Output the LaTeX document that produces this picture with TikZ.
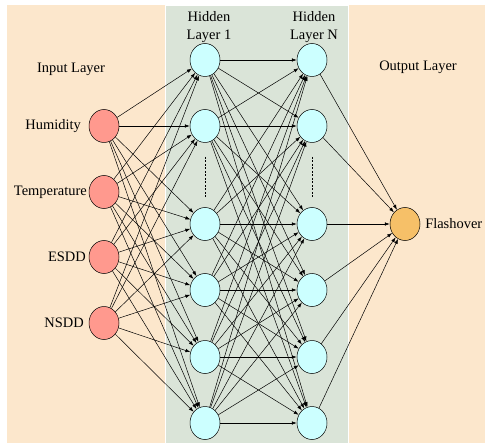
\documentclass[tikz,border=0pt]{standalone}
\usepackage{fontspec}
\setmainfont{Liberation Serif}
\usetikzlibrary{arrows.meta,shapes.geometric}
\definecolor{peach}{RGB}{252,231,204}
\definecolor{sage}{RGB}{218,228,216}
\definecolor{salmon}{RGB}{255,153,142}
\definecolor{aqua}{RGB}{204,255,255}
\definecolor{amber}{RGB}{246,192,104}

\begin{document}
\begin{tikzpicture}[x=1bp,y=-1bp,->,>={Latex[length=5bp,width=3.5bp]},line width=0.5bp]
          \tikzstyle{every node}=[font=\fontsize{14.5}{18.5}\selectfont]
          \tikzstyle{neuron}=[ellipse,draw=black,minimum width=30bp,minimum height=33bp,inner sep=0pt]
          \tikzstyle{innode}=[neuron,fill=salmon]
          \tikzstyle{hidnode}=[neuron,fill=aqua]
          \tikzstyle{outnode}=[neuron,fill=amber]
          \tikzstyle{caption}=[inner sep=0pt,align=center]

          \useasboundingbox (0,0) rectangle (485,443);
          \fill[-,peach] (7,5) rectangle (485,443);
          \filldraw[-,fill=sage,draw=white] (165,5) rectangle (348,443);

          \node[innode] (I1) at (104,126) {};
          \node[innode] (I2) at (104,192) {};
          \node[innode] (I3) at (104,257) {};
          \node[innode] (I4) at (104,323) {};

          \node[hidnode] (A1) at (205,60)  {};
          \node[hidnode] (A2) at (205,126) {};
          \node[hidnode] (A3) at (205,224) {};
          \node[hidnode] (A4) at (205,290) {};
          \node[hidnode] (A5) at (205,357) {};
          \node[hidnode] (A6) at (205,423) {};

          \node[hidnode] (B1) at (312,60)  {};
          \node[hidnode] (B2) at (312,126) {};
          \node[hidnode] (B3) at (312,224) {};
          \node[hidnode] (B4) at (312,290) {};
          \node[hidnode] (B5) at (312,357) {};
          \node[hidnode] (B6) at (312,423) {};

          \node[outnode] (O) at (405,224) {};

          \node[caption] (inlbl)  at (71,69)  {Input Layer};
          \node[caption] (h1lbl)  at (209,27) {Hidden\\Layer 1};
          \node[caption] (hnlbl)  at (314,27) {Hidden\\Layer N};
          \node[caption] (outlbl) at (418,67) {Output Layer};

          \node[caption,anchor=east] (humid) at (81,126) {Humidity};
          \node[caption,anchor=east] (temp)  at (87,192) {Temperature};
          \node[caption,anchor=east] (esdd)  at (86,257) {ESDD};
          \node[caption,anchor=east] (nsdd)  at (84,323) {NSDD};
          \node[caption,anchor=west] (flash) at (425,224) {Flashover};

          \draw[-,dash pattern=on 2bp off 1.5bp] (205,157) -- (205,197);
          \draw[-,dash pattern=on 2bp off 1.5bp] (312,157) -- (312,197);

          \path (I1) edge (A1) edge (A2) edge (A3) edge (A4) edge (A5) edge (A6)
                (I2) edge (A1) edge (A2) edge (A3) edge (A4) edge (A5) edge (A6)
                (I3) edge (A1) edge (A2) edge (A3) edge (A4) edge (A5) edge (A6)
                (I4) edge (A1) edge (A2) edge (A3) edge (A4) edge (A5) edge (A6);

          \path (A1) edge (B1) edge (B2) edge (B3) edge (B4) edge (B5) edge (B6)
                (A2) edge (B1) edge (B2) edge (B3) edge (B4) edge (B5) edge (B6)
                (A3) edge (B1) edge (B2) edge (B3) edge (B4) edge (B5) edge (B6)
                (A4) edge (B1) edge (B2) edge (B3) edge (B4) edge (B5) edge (B6)
                (A5) edge (B1) edge (B2) edge (B3) edge (B4) edge (B5) edge (B6)
                (A6) edge (B1) edge (B2) edge (B3) edge (B4) edge (B5) edge (B6);

          \path (B1) edge (O)
                (B2) edge (O)
                (B3) edge (O)
                (B4) edge (O)
                (B5) edge (O)
                (B6) edge (O);

        \end{tikzpicture}
\end{document}
